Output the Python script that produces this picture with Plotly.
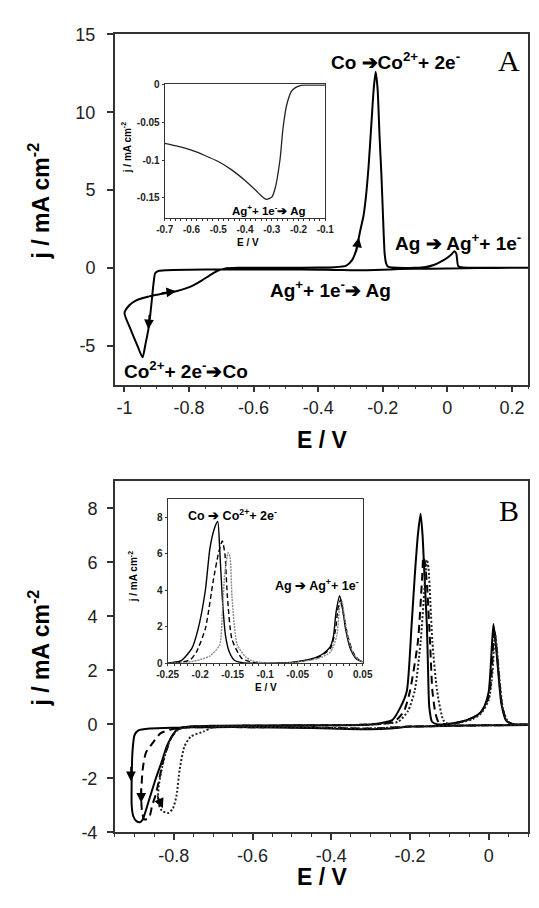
import plotly.graph_objects as go

# ---------------- Panel A: main CV ----------------
a_E = [0.25, 0.15, 0.05, -0.05, -0.15, -0.2, -0.25, -0.3, -0.35, -0.4, -0.5, -0.6, -0.7, -0.8, -0.87,
       -0.895, -0.905, -0.91, -0.915, -0.92, -0.926, -0.935, -0.944, -0.96, -0.98, -1.0,
       -0.985, -0.965, -0.945, -0.926, -0.9, -0.87, -0.84, -0.81, -0.787, -0.76, -0.737, -0.715, -0.69,
       -0.65, -0.6, -0.5, -0.4, -0.35, -0.313, -0.295, -0.283, -0.274, -0.268, -0.26, -0.252, -0.244,
       -0.236, -0.228, -0.222, -0.216, -0.21, -0.204, -0.199, -0.194, -0.189, -0.184, -0.17, -0.1,
       -0.067, -0.04, -0.02, 0.0, 0.012, 0.022, 0.028, 0.034, 0.05, 0.1, 0.2, 0.25]
a_j = [0.0, 0.0, -0.02, -0.05, -0.08, -0.12, -0.15, -0.15, -0.13, -0.12, -0.1, -0.1, -0.1, -0.12, -0.15,
       -0.2, -0.35, -1.0, -2.0, -3.0, -3.95, -4.9, -5.75, -5.0, -4.0, -2.9,
       -2.4, -2.1, -1.95, -1.85, -1.73, -1.62, -1.5, -1.32, -1.13, -0.8, -0.5, -0.22, -0.05,
       0.0, 0.0, 0.0, 0.02, 0.04, 0.15, 0.5, 1.09, 1.95, 2.56, 3.3, 4.6, 6.5,
       9.0, 11.5, 12.6, 11.5, 8.5, 5.9, 3.2, 0.88, 0.25, 0.08, 0.02, 0.0,
       0.05, 0.2, 0.4, 0.65, 0.85, 1.07, 0.9, 0.1, 0.02, 0.0, 0.0, 0.0]

# Panel A inset
ain_E = [-0.7, -0.65, -0.6, -0.55, -0.5, -0.45, -0.4, -0.36, -0.34, -0.32, -0.30, -0.287, -0.269,
         -0.258, -0.244, -0.226, -0.21, -0.197, -0.18, -0.15, -0.1]
ain_j = [-0.078, -0.082, -0.087, -0.094, -0.102, -0.113, -0.127, -0.140, -0.147, -0.152, -0.149, -0.137,
         -0.099, -0.058, -0.027, -0.009, -0.004, -0.002, -0.001, -0.001, -0.001]

# ---------------- Panel B: main CVs ----------------
b_solid_E = [0.10, 0.05, 0.0, -0.1, -0.2, -0.25, -0.3, -0.4, -0.5, -0.6, -0.7, -0.8, -0.86, -0.89, -0.90,
             -0.905, -0.907, -0.907, -0.903, -0.895, -0.886, -0.879, -0.862, -0.846, -0.83, -0.818, -0.805,
             -0.793, -0.773, -0.7, -0.6, -0.5, -0.4, -0.3, -0.245, -0.224, -0.208, -0.196, -0.188, -0.18,
             -0.173, -0.168, -0.163, -0.157, -0.154, -0.151, -0.144, -0.13, -0.1, -0.07, -0.04, -0.02,
             -0.01, 0.0, 0.005, 0.012, 0.018, 0.024, 0.032, 0.044, 0.06, 0.1]
b_solid_j = [-0.02, -0.03, -0.03, -0.05, -0.08, -0.15, -0.18, -0.15, -0.12, -0.1, -0.1, -0.12, -0.15, -0.22, -0.4,
             -1.0, -2.0, -3.0, -3.4, -3.58, -3.62, -3.52, -2.75, -2.01, -1.35, -0.81, -0.45,
             -0.2, -0.1, -0.05, -0.04, -0.03, -0.03, 0.0, 0.16, 0.64, 1.24, 3.65, 5.46, 7.0,
             7.8, 7.0, 5.46, 3.65, 2.0, 0.65, 0.1, 0.0, 0.03, 0.1, 0.25, 0.45,
             0.7, 1.2, 2.1, 3.72, 3.0, 2.0, 0.8, 0.15, 0.02, 0.0]

b_dash_E = [0.10, 0.0, -0.1, -0.2, -0.3, -0.4, -0.5, -0.6, -0.7, -0.78, -0.81, -0.834, -0.854, -0.871,
            -0.879, -0.883, -0.881, -0.875, -0.863, -0.855, -0.846, -0.836, -0.826, -0.815, -0.805,
            -0.785, -0.76, -0.6, -0.4, -0.3, -0.24, -0.215, -0.2, -0.18, -0.169, -0.166, -0.162, -0.156,
            -0.149, -0.143, -0.135, -0.127, -0.11, -0.07, -0.04, -0.02, 0.0, 0.008, 0.014, 0.02, 0.026,
            0.034, 0.046, 0.06, 0.1]
b_dash_j = [-0.02, -0.03, -0.05, -0.08, -0.15, -0.13, -0.1, -0.1, -0.1, -0.12, -0.2, -0.33, -0.69, -1.05,
            -1.65, -2.6, -3.2, -3.52, -3.46, -3.0, -2.6, -1.95, -1.29, -0.8, -0.44,
            -0.14, -0.08, -0.05, -0.03, 0.0, 0.1, 0.5, 1.24, 3.05, 5.46, 6.2, 6.0, 5.0,
            3.05, 1.24, 0.4, 0.08, 0.0, 0.1, 0.25, 0.45, 1.0, 2.0, 3.55, 2.8, 1.8,
            0.7, 0.12, 0.02, 0.0]

b_dot_E = [0.10, 0.0, -0.1, -0.2, -0.3, -0.4, -0.5, -0.6, -0.7, -0.724, -0.757, -0.773, -0.785, -0.793,
           -0.802, -0.814, -0.83, -0.84, -0.838, -0.83, -0.818, -0.805, -0.79, -0.77, -0.6, -0.4, -0.3,
           -0.23, -0.205, -0.188, -0.173, -0.161, -0.157, -0.153, -0.148, -0.143, -0.131, -0.115, -0.1,
           -0.07, -0.04, -0.02, 0.0, 0.01, 0.016, 0.022, 0.028, 0.036, 0.048, 0.06, 0.1]
b_dot_j = [-0.02, -0.03, -0.05, -0.08, -0.15, -0.13, -0.1, -0.1, -0.1, -0.26, -0.45, -0.81, -1.65, -2.62,
           -3.1, -3.28, -3.2, -2.9, -2.25, -1.6, -0.9, -0.45, -0.2, -0.1, -0.05, -0.03, 0.0,
           0.1, 0.5, 1.24, 3.05, 5.46, 6.1, 5.8, 4.5, 3.05, 1.24, 0.15, 0.0,
           0.08, 0.2, 0.4, 0.9, 2.0, 3.4, 2.6, 1.6, 0.6, 0.12, 0.02, 0.0]

# Panel B inset (anodic stripping region)
bin_solid_E = [-0.25, -0.24, -0.229, -0.213, -0.203, -0.192, -0.185, -0.178, -0.173, -0.170, -0.166, -0.161,
               -0.155, -0.147, -0.135, -0.12, -0.1, -0.08, -0.06, -0.04, -0.02, -0.01, 0.0, 0.005, 0.009,
               0.0145, 0.019, 0.024, 0.031, 0.04, 0.05]
bin_solid_j = [0.02, 0.06, 0.15, 0.8, 1.9, 4.0, 6.3, 7.4, 7.77, 6.3, 3.6, 1.5,
               0.6, 0.15, 0.03, 0.0, 0.0, 0.02, 0.05, 0.15, 0.35, 0.55, 0.9, 1.5, 2.8,
               3.7, 3.0, 1.8, 0.8, 0.25, 0.08]
bin_dash_E = [-0.25, -0.23, -0.215, -0.206, -0.192, -0.18, -0.172, -0.166, -0.162, -0.158, -0.151, -0.136,
              -0.12, -0.1, -0.08, -0.06, -0.02, 0.0, 0.008, 0.012, 0.016, 0.021, 0.027, 0.035, 0.045, 0.05]
bin_dash_j = [0.0, 0.05, 0.2, 0.6, 1.9, 4.5, 6.0, 6.7, 6.0, 3.6, 1.3, 0.27,
              0.05, 0.0, 0.0, 0.04, 0.3, 0.8, 1.8, 3.0, 3.5, 2.6, 1.5, 0.6, 0.15, 0.08]
bin_gray_E = [-0.25, -0.22, -0.2, -0.185, -0.17, -0.166, -0.162, -0.157, -0.154, -0.151, -0.143, -0.13,
              -0.121, -0.1, -0.08, -0.06, -0.02, 0.0, 0.01, 0.015, 0.018, 0.022, 0.028, 0.036, 0.045, 0.05]
bin_gray_j = [0.0, 0.05, 0.2, 0.4, 1.0, 2.7, 5.0, 6.06, 5.8, 3.6, 1.0, 0.35,
              0.15, 0.02, 0.0, 0.03, 0.25, 0.6, 1.5, 3.2, 3.4, 2.5, 1.3, 0.5, 0.15, 0.08]

# ---------------- tick labels ----------------
a_xtick_vals = [-1, -0.8, -0.6, -0.4, -0.2, 0, 0.2]
a_xtick_text = ["-1", "-0.8", "-0.6", "-0.4", "-0.2", "0", "0.2"]
a_ytick_vals = [-5, 0, 5, 10, 15]
a_ytick_text = ["-5", "0", "5", "10", "15"]
ain_xtick_vals = [-0.7, -0.6, -0.5, -0.4, -0.3, -0.2, -0.1]
ain_xtick_text = ["-0.7", "-0.6", "-0.5", "-0.4", "-0.3", "-0.2", "-0.1"]
ain_ytick_vals = [-0.15, -0.1, -0.05, 0]
ain_ytick_text = ["-0.15", "-0.1", "-0.05", "0"]
b_xtick_vals = [-0.8, -0.6, -0.4, -0.2, 0]
b_xtick_text = ["-0.8", "-0.6", "-0.4", "-0.2", "0"]
b_ytick_vals = [-4, -2, 0, 2, 4, 6, 8]
b_ytick_text = ["-4", "-2", "0", "2", "4", "6", "8"]
bin_xtick_vals = [-0.25, -0.2, -0.15, -0.1, -0.05, 0, 0.05]
bin_xtick_text = ["-0.25", "-0.2", "-0.15", "-0.1", "-0.05", "0", "0.05"]
bin_ytick_vals = [0, 2, 4, 6, 8]
bin_ytick_text = ["0", "2", "4", "6", "8"]

W, H = 539, 908
FONT = "Liberation Sans, Arial, sans-serif"
SERIF = "Liberation Serif, Times New Roman, serif"
ARROW = "\u2794"

fig = go.Figure()
spl = dict(shape="spline", smoothing=0.6)
fig.add_trace(go.Scatter(x=a_E, y=a_j, mode="lines", line=dict(color="black", width=2, **spl),
                         xaxis="x", yaxis="y", showlegend=False))
fig.add_trace(go.Scatter(x=ain_E, y=ain_j, mode="lines", line=dict(color="#222", width=1.3, **spl),
                         xaxis="x2", yaxis="y2", showlegend=False))
fig.add_trace(go.Scatter(x=b_solid_E, y=b_solid_j, mode="lines", line=dict(color="black", width=2, **spl),
                         xaxis="x3", yaxis="y3", showlegend=False))
fig.add_trace(go.Scatter(x=b_dash_E, y=b_dash_j, mode="lines",
                         line=dict(color="black", width=2, dash="8px,5px", **spl),
                         xaxis="x3", yaxis="y3", showlegend=False))
fig.add_trace(go.Scatter(x=b_dot_E, y=b_dot_j, mode="lines",
                         line=dict(color="#222", width=2, dash="2px,2px", **spl),
                         xaxis="x3", yaxis="y3", showlegend=False))
fig.add_trace(go.Scatter(x=bin_solid_E, y=bin_solid_j, mode="lines", line=dict(color="black", width=1.4, **spl),
                         xaxis="x4", yaxis="y4", showlegend=False))
fig.add_trace(go.Scatter(x=bin_dash_E, y=bin_dash_j, mode="lines",
                         line=dict(color="black", width=1.4, dash="5px,3px", **spl),
                         xaxis="x4", yaxis="y4", showlegend=False))
fig.add_trace(go.Scatter(x=bin_gray_E, y=bin_gray_j, mode="lines",
                         line=dict(color="#8a8a8a", width=1.4, dash="2px,1px", **spl),
                         xaxis="x4", yaxis="y4", showlegend=False))


def main_axis(domain, rng, vals, text, anchor, minor=None, standoff=0):
    d = dict(domain=domain, range=rng, anchor=anchor, tickmode="array", tickvals=vals, ticktext=text,
             ticks="outside", ticklen=6, tickwidth=1.5, tickcolor="#333", showline=True, mirror=True,
             linewidth=1.6, linecolor="#333", showgrid=False, zeroline=False, ticklabelstandoff=standoff,
             tickfont=dict(family=FONT, size=18, color="#222"))
    if minor:
        d["minor"] = dict(dtick=minor, tick0=0, ticks="outside", ticklen=3, tickwidth=1.2, tickcolor="#333")
    return d


def inset_axis(domain, rng, vals, text, anchor, minor=None):
    d = dict(domain=domain, range=rng, anchor=anchor, tickmode="array", tickvals=vals, ticktext=text,
             ticks="outside", ticklen=2, tickwidth=1, tickcolor="#333", showline=True, mirror=True,
             linewidth=1.2, linecolor="#333", showgrid=False, zeroline=False,
             tickfont=dict(family=FONT, size=10, color="#222", weight="bold"))
    if minor:
        d["minor"] = dict(dtick=minor, tick0=0, ticks="outside", ticklen=2, tickwidth=0.8, tickcolor="#333")
    return d


def px(x):
    return x / W


def py(y):
    return 1 - y / H


fig.update_layout(
    width=W, height=H, margin=dict(l=0, r=0, t=0, b=0),
    paper_bgcolor="white", plot_bgcolor="rgba(0,0,0,0)",
    xaxis=main_axis([px(108), px(538)], [-1.03, 0.25], a_xtick_vals, a_xtick_text, "y", minor=0.05),
    yaxis=main_axis([py(383), py(25)], [-7.5, 15], a_ytick_vals, a_ytick_text, "x", standoff=8),
    xaxis2=inset_axis([px(160), px(327)], [-0.7, -0.1], ain_xtick_vals, ain_xtick_text, "y2", minor=0.02),
    yaxis2=inset_axis([py(213), py(76)], [-0.177, 0.0], ain_ytick_vals, ain_ytick_text, "x2"),
    xaxis3=main_axis([px(108), px(538)], [-0.95, 0.1], b_xtick_vals, b_xtick_text, "y3", minor=0.05),
    yaxis3=main_axis([py(841), py(482)], [-4, 9], b_ytick_vals, b_ytick_text, "x3", standoff=6),
    xaxis4=inset_axis([px(163), px(366)], [-0.25, 0.05], bin_xtick_vals, bin_xtick_text, "y4", minor=0.01),
    yaxis4=inset_axis([py(668), py(500)], [0, 9], bin_ytick_vals, bin_ytick_text, "x4"),
)

ann = []
bold = dict(family=FONT, color="black", weight="bold")


def text(x, y, s, size, xanchor="center", angle=0, font=None):
    f = dict(bold) if font is None else dict(font)
    f["size"] = size
    ann.append(dict(x=px(x), y=py(y), xref="paper", yref="paper", text=s, showarrow=False,
                    xanchor=xanchor, yanchor="middle", textangle=angle, font=f))


# Panel A labels
text(400, 52, "Co " + ARROW + "Co<sup>2+</sup>+ 2e<sup>-</sup>", 19)
text(518, 52, "A", 30, font=dict(family=SERIF, color="black"))
text(398, 237, "Ag " + ARROW + " Ag<sup>+</sup>+ 1e<sup>-</sup>", 19, xanchor="left")
text(267, 285, "Ag<sup>+</sup>+ 1e<sup>-</sup>" + ARROW + " Ag", 19, xanchor="left")
text(116, 368, "Co<sup>2+</sup>+ 2e<sup>-</sup>" + ARROW + "Co", 19, xanchor="left")
text(29, 195, "j / mA cm<sup>-2</sup>", 23, angle=-90)
text(324, 440, "E / V", 23)
# Panel A inset labels
text(120, 141, "j / mA cm<sup>-2</sup>", 10, angle=-90)
text(247, 238, "E / V", 10)
text(268, 204, "Ag<sup>+</sup>+ 1e<sup>-</sup>" + ARROW + " Ag", 11.5)

# Panel B labels
text(518, 512, "B", 30, font=dict(family=SERIF, color="black"))
text(29, 652, "j / mA cm<sup>-2</sup>", 23, angle=-90)
text(324, 887, "E / V", 23)
# Panel B inset labels
text(230, 516, "Co " + ARROW + " Co<sup>2+</sup>+ 2e<sup>-</sup>", 12.5)
text(318, 588, "Ag " + ARROW + " Ag<sup>+</sup>+ 1e<sup>-</sup>", 12.5)
text(127, 580, "j / mA cm<sup>-2</sup>", 10, angle=-90)
text(265, 693, "E / V", 10)

# direction arrows on the curves (head position in data coords, tail offset in px)
arrow_A = [(-0.926, -3.95, 1, -16), (-0.84, -1.5, -16, 2), (-0.274, 1.95, -3, 16)]
arrow_B = [(-0.909, -2.1, 0, -16), (-0.883, -2.9, 0, -16), (-0.828, -3.1, -6, -14)]
for (x, y, axo, ayo) in arrow_A:
    ann.append(dict(x=x, y=y, xref="x", yref="y", ax=axo, ay=ayo, text="", showarrow=True,
                    arrowhead=2, arrowsize=1.3, arrowwidth=1.5, arrowcolor="black"))
for (x, y, axo, ayo) in arrow_B:
    ann.append(dict(x=x, y=y, xref="x3", yref="y3", ax=axo, ay=ayo, text="", showarrow=True,
                    arrowhead=2, arrowsize=1.3, arrowwidth=1.5, arrowcolor="black"))

fig.update_layout(annotations=ann)
fig.write_html("out.html")
